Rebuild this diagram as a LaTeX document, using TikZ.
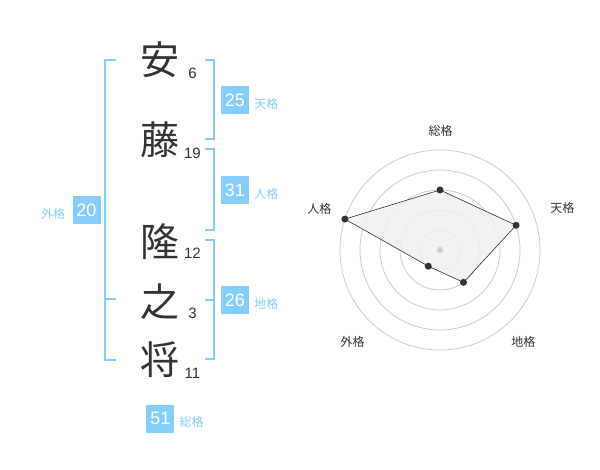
\documentclass[tikz,border=0pt]{standalone}
\usepackage{fontspec}
\setmainfont{Liberation Sans}
\newfontfamily\cjk{Noto Sans CJK JP}
\usetikzlibrary{positioning}
\definecolor{kakublue}{HTML}{85CDFA}
\definecolor{inkgray}{HTML}{333333}
\begin{document}
\begin{tikzpicture}[
    x = 1pt, y = -1pt,
    kanji/.style = {text = inkgray, inner sep = 0pt, font = \cjk\fontsize{39}{39}\selectfont},
    strokes/.style = {text = inkgray, inner sep = 0pt, font = \fontsize{15}{15}\selectfont},
    score/.style = {fill = kakublue, text = white, inner sep = 0pt, minimum width = 28pt, minimum height = 28pt, font = \fontsize{18}{18}\selectfont},
    kaku/.style = {text = kakublue, inner sep = 0pt, font = \cjk\fontsize{12}{12}\selectfont},
    bracket/.style = {draw = kakublue, line width = 2pt},
    ring/.style = {draw = black!22, line width = 0.7pt},
    axis/.style = {text = inkgray, inner sep = 0pt, font = \cjk\fontsize{12}{12}\selectfont},
    dot/.style = {circle, fill = inkgray, inner sep = 0pt, minimum size = 7pt}
]
\useasboundingbox (0,0) rectangle (600,470);
% name
\node[kanji] (k1) at (160,60) {安};
\node[kanji] (k2) at (160,140) {藤};
\node[kanji] (k3) at (160,242) {隆};
\node[kanji] (k4) at (160,302) {之};
\node[kanji] (k5) at (160,360) {将};
\node[strokes] (n1) at (192.5,73) {6};
\node[strokes] (n2) at (192.5,153) {19};
\node[strokes] (n3) at (192.5,253) {12};
\node[strokes] (n4) at (192.5,313) {3};
\node[strokes] (n5) at (192.5,373) {11};
% brackets
\draw[bracket] (205,60) -- (214,60) -- (214,139.3) -- (205,139.3);
\draw[bracket] (205,149.3) -- (214,149.3) -- (214,230) -- (205,230);
\draw[bracket] (205,240) -- (214,240) -- (214,359.3) -- (205,359.3);
\draw[bracket] (205,300) -- (214,300);
\draw[bracket] (116,60) -- (105,60) -- (105,360) -- (116,360);
\draw[bracket] (105,299.3) -- (116,299.3);
% scores
\node[score] (s-ten) at (235,100.5) {25};
\node[score] (s-jin) at (235,190.2) {31};
\node[score] (s-chi) at (235,300.2) {26};
\node[score] (s-gai) at (86.5,210) {20};
\node[score] (s-sou) at (160.3,418.8) {51};
\node[kaku, right = 5pt of s-ten, yshift = -3.5pt] (l-ten) {天格};
\node[kaku, right = 5pt of s-jin, yshift = -3.5pt] (l-jin) {人格};
\node[kaku, right = 5pt of s-chi, yshift = -3.5pt] (l-chi) {地格};
\node[kaku, left = 7pt of s-gai, yshift = -3.5pt] (l-gai) {外格};
\node[kaku, right = 5pt of s-sou, yshift = -3.5pt] (l-sou) {総格};
% radar
\coordinate (c) at (440,250);
\foreach \r in {20,40,60,80,100}
    \draw[ring] (c) circle[radius = \r pt];
\coordinate (p-sou) at ([shift = {(90:60pt)}]c);
\coordinate (p-ten) at ([shift = {(18:80pt)}]c);
\coordinate (p-chi) at ([shift = {(306:40pt)}]c);
\coordinate (p-gai) at ([shift = {(234:20pt)}]c);
\coordinate (p-jin) at ([shift = {(162:100pt)}]c);
\draw[fill = black!6, draw = inkgray, line width = 0.6pt, fill opacity = 0.85]
    (p-sou) -- (p-ten) -- (p-chi) -- (p-gai) -- (p-jin) -- cycle;
\node[circle, fill = black!20, inner sep = 0pt, minimum size = 6pt] (mid) at (c) {};
\foreach \p in {sou,ten,chi,gai,jin}
    \node[dot] (d-\p) at (p-\p) {};
\node[axis] (a-sou) at (440.7,130.7) {総格};
\node[axis] (a-ten) at (562.3,208.3) {天格};
\node[axis] (a-jin) at (319.3,209.3) {人格};
\node[axis] (a-gai) at (352.7,341.7) {外格};
\node[axis] (a-chi) at (523.3,341.7) {地格};

\end{tikzpicture}
\end{document}
